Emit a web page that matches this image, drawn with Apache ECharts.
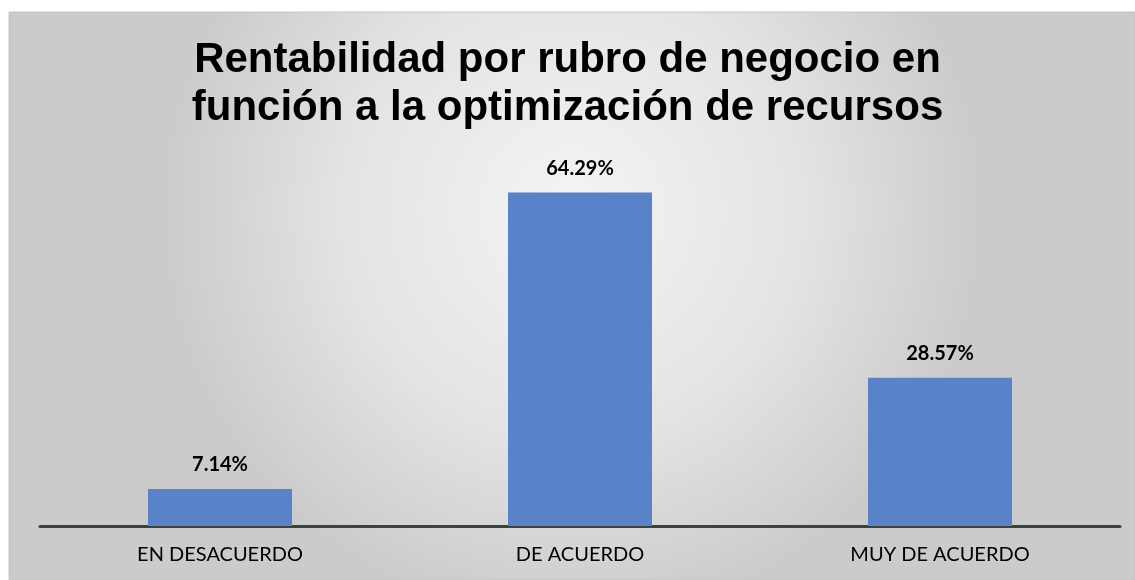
<!DOCTYPE html>
<html>
<head>
<meta charset="utf-8">
<script src="https://cdn.jsdelivr.net/npm/echarts@6/dist/echarts.min.js"></script>
<style>
  html, body { margin: 0; padding: 0; background: #fff; }
  #main { width: 1135px; height: 580px; }
</style>
</head>
<body>
<div id="main"></div>
<script>
var categories = ['EN DESACUERDO', 'DE ACUERDO', 'MUY DE ACUERDO'];
var values = [7.14, 64.29, 28.57];
var titleLines = ['Rentabilidad por rubro de negocio en', 'función a la optimización de recursos'];

var chart = echarts.init(document.getElementById('main'));
chart.setOption({
  animation: false,
  graphic: [{
    type: 'rect',
    z: -10,
    shape: { x: 9, y: 12, width: 1126, height: 568 },
    style: {
      fill: new echarts.graphic.RadialGradient(0.5, 0.35, 0.72, [
        { offset: 0, color: '#f4f4f4' },
        { offset: 0.55, color: '#e4e4e4' },
        { offset: 1, color: '#cbcbcb' }
      ]),
      stroke: '#c4c4c4',
      lineWidth: 1
    }
  }],
  title: {
    text: titleLines.join('\n'),
    left: 'center',
    top: 31,
    textStyle: {
      fontFamily: 'Liberation Sans',
      fontWeight: 'bold',
      fontSize: 42,
      lineHeight: 48,
      color: '#000'
    }
  },
  grid: { left: 40, right: 15, top: 163, bottom: 54 },
  xAxis: {
    type: 'category',
    data: categories,
    axisLine: { lineStyle: { color: '#404040', width: 3 } },
    axisTick: { show: false },
    axisLabel: {
      fontFamily: 'Lato',
      fontSize: 20,
      color: '#000',
      margin: 19
    }
  },
  yAxis: {
    type: 'value',
    min: 0,
    max: 70,
    show: false,
    splitLine: { show: false }
  },
  series: [{
    type: 'bar',
    data: values,
    barWidth: '40%',
    itemStyle: { color: '#5a82c8' },
    label: {
      show: true,
      position: 'top',
      distance: 14,
      formatter: function (p) { return p.value.toFixed(2) + '%'; },
      fontFamily: 'Lato',
      fontWeight: 'bold',
      fontSize: 20,
      color: '#000'
    }
  }]
});
</script>
</body>
</html>
